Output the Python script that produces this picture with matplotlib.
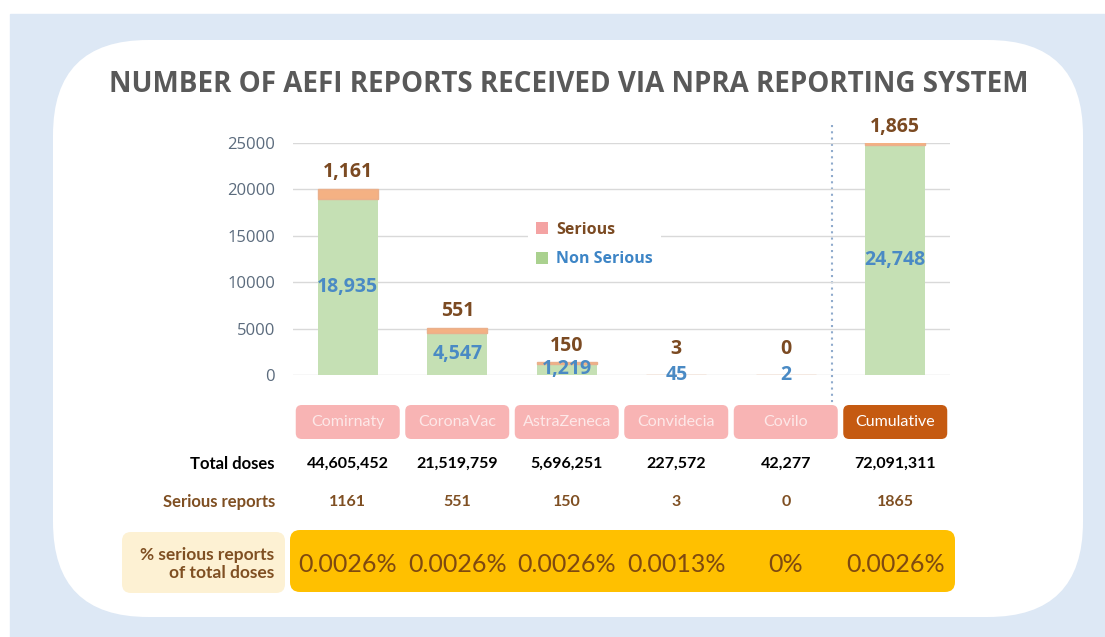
import numpy as np
import matplotlib.pyplot as plt
from matplotlib.patches import FancyBboxPatch, Rectangle, Patch

# data
vaccines = ['Comirnaty', 'CoronaVac', 'AstraZeneca', 'Convidecia', 'Covilo', 'Cumulative']
non_serious = [18935, 4547, 1219, 45, 2, 24748]
serious = [1161, 551, 150, 3, 0, 1865]
total_doses = [44605452, 21519759, 5696251, 227572, 42277, 72091311]
serious_reports = [1161, 551, 150, 3, 0, 1865]
pct_serious = ['0.0026%', '0.0026%', '0.0026%', '0.0013%', '0%', '0.0026%']
yticks = [0, 5000, 10000, 15000, 20000, 25000]

title = 'NUMBER OF AEFI REPORTS RECEIVED VIA NPRA REPORTING SYSTEM'

W, H = 1105, 637
fig = plt.figure(figsize=(W / 100, H / 100), dpi=100)
fig.patch.set_facecolor('white')

# background layer in pixel coordinates
bg = fig.add_axes([0, 0, 1, 1], zorder=0)
bg.set_xlim(0, W)
bg.set_ylim(H, 0)
bg.axis('off')
bg.add_patch(Rectangle((10, 14), W - 10, H - 14, color='#dde8f5'))
bg.add_patch(FancyBboxPatch((53, 40), 1030, 577, boxstyle='round,pad=0,rounding_size=95',
                            facecolor='white', edgecolor='none'))
bg.text(569, 85, title, ha='center', va='center', fontsize=20, fontweight='bold',
        color='#595959', family='Open Sans')

# main chart
ax = fig.add_axes([293 / W, (H - 375) / H, (950 - 293) / W, (375 - 143) / H], zorder=2)
ax.patch.set_alpha(0)
x = np.arange(len(vaccines))
ax.set_xlim(-0.5, len(vaccines) - 0.5)
ax.set_ylim(0, 25000)

ax.bar(x, non_serious, 0.55, color='#c5e0b4', zorder=2)
ax.bar(x, serious, 0.55, bottom=non_serious, color='#f4b183',
       edgecolor='#eab08c', linewidth=1.0, zorder=2)

ax.set_yticks(yticks)
ax.set_xticks([])
ax.yaxis.grid(True, color='#d9d9d9', lw=1)
ax.set_axisbelow(True)
for s in ax.spines.values():
    s.set_visible(False)
ax.tick_params(axis='y', length=0, pad=13, labelsize=12, labelcolor='#5b6b7d')
for lab in ax.get_yticklabels():
    lab.set_family('Open Sans')

for i in range(len(vaccines)):
    # keep labels of near-empty bars clear of the value below them
    top = min(max(non_serious[i] + serious[i], 1000), 25000)
    ax.annotate(f'{serious[i]:,}', xy=(i, top), xytext=(0, 4.5), textcoords='offset points',
                ha='center', va='bottom', fontsize=14, fontweight='bold', color='#7b4a22',
                family='Open Sans', annotation_clip=False, zorder=4)
    ax.text(i, non_serious[i] / 2, f'{non_serious[i]:,}', ha='center', va='center',
            fontsize=14, fontweight='bold', color='#4a8ac4', family='Open Sans',
            clip_on=False, zorder=4)

handles = [Patch(facecolor='#f4a3a3'), Patch(facecolor='#aad18f')]
leg = ax.legend(handles, ['Serious', 'Non Serious'], loc='upper left',
                bbox_to_anchor=(0.345, 0.73), frameon=True, facecolor='white',
                edgecolor='none', framealpha=1, handlelength=0.8, handleheight=0.8,
                handletextpad=0.5, labelspacing=0.85, borderpad=0.5,
                prop={'family': 'Open Sans', 'weight': 'bold', 'size': 11.5})
leg.get_texts()[0].set_color('#7b4a22')
leg.get_texts()[1].set_color('#3d85c6')

# dotted separator before the cumulative column
bg.plot([832, 832], [125, 405], ls=(0, (1, 2)), color='#8faacc', lw=1.5)

# table under the chart
cx = [ax.transData.transform((i, 0))[0] for i in x]
for i, name in enumerate(vaccines):
    last = i == len(vaccines) - 1
    bg.add_patch(FancyBboxPatch((cx[i] - 52, 405), 104, 34,
                                boxstyle='round,pad=0,rounding_size=6',
                                facecolor='#c55a11' if last else '#f8b4b4', edgecolor='none'))
    bg.text(cx[i], 422, name, ha='center', va='center', fontsize=11.5, family='Lato',
            color='white' if last else '#fde8e8')
    bg.text(cx[i], 464, f'{total_doses[i]:,}', ha='center', va='center', fontsize=11.5,
            fontweight='bold', family='Lato', color='black')
    bg.text(cx[i], 502, str(serious_reports[i]), ha='center', va='center', fontsize=11.5,
            fontweight='bold', family='Lato', color='#7f4f22')

bg.text(275, 464, 'Total doses', ha='right', va='center', fontsize=12,
        fontweight='bold', family='Lato', color='black')
bg.text(275, 502, 'Serious reports', ha='right', va='center', fontsize=12,
        fontweight='bold', family='Lato', color='#7f4f22')

bg.add_patch(FancyBboxPatch((122, 532), 163, 61, boxstyle='round,pad=0,rounding_size=9',
                            facecolor='#fdf1d3', edgecolor='none'))
bg.add_patch(FancyBboxPatch((290, 530), 665, 62, boxstyle='round,pad=0,rounding_size=10',
                            facecolor='#ffc000', edgecolor='none'))
bg.text(274, 564, '% serious reports\nof total doses', ha='right', va='center',
        fontsize=12.5, fontweight='bold', family='Lato', color='#7f4f22', linespacing=1.2)
for i in range(len(vaccines)):
    bg.text(cx[i], 564, pct_serious[i], ha='center', va='center', fontsize=18,
            family='Lato', color='#7f4a10')

fig.savefig('out.png', dpi=100)
